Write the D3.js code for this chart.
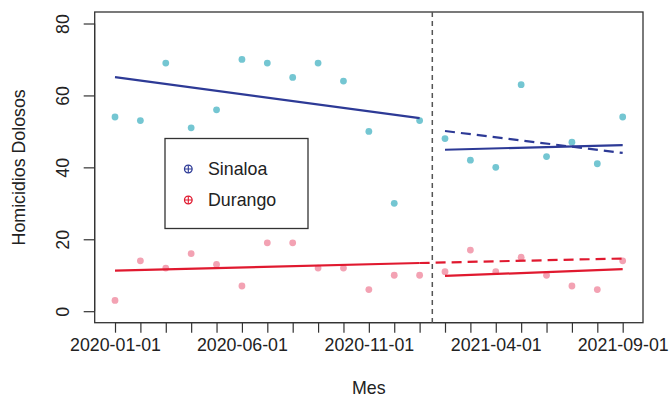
<!DOCTYPE html>
<html>
<head>
<meta charset="utf-8">
<script src="https://cdn.jsdelivr.net/npm/d3@7"></script>
<style>
  body { margin: 0; background: #fff; }
  text { font-family: "Liberation Sans", Arial, sans-serif; fill: #222; }
</style>
</head>
<body>
<div id="plot"></div>
<script>
// months, 1..21
var meses = ["2020-01-01","2020-02-01","2020-03-01","2020-04-01","2020-05-01","2020-06-01",
  "2020-07-01","2020-08-01","2020-09-01","2020-10-01","2020-11-01","2020-12-01",
  "2021-01-01","2021-02-01","2021-03-01","2021-04-01","2021-05-01","2021-06-01",
  "2021-07-01","2021-08-01","2021-09-01"];
var sinaloa = [54,53,69,51,56,70,69,65,69,64,50,30,53,48,42,40,63,43,47,41,54];
var durango = [3,14,12,16,13,7,19,19,12,12,6,10,10,11,17,11,15,10,7,6,14];
// fitted lines: [month index, value]
var sinaloaPre = [[1,65.1],[13,53.7]];
var sinaloaPost = [[14,44.9],[21,46.2]];
var sinaloaCF = [[14,50.1],[21,44.0]];
var durangoPre = [[1,11.3],[13,13.4]];
var durangoPost = [[14,9.8],[21,11.7]];
var durangoCF = [[13,13.4],[21,14.65]];
var corte = 13.5;
var yTicks = [0,20,40,60,80];
var labelEvery = 5;

var width = 670, height = 397;
var mLeft = 94.7, mRight = 643, mTop = 12, mBottom = 322.7;
var fs = "17.8px";

var colAzul = "#2d3a96", colCian = "#74c6d2", colRojo = "#e0192f", colRosa = "#f3a2b3";

var svg = d3.select("#plot").append("svg").attr("width", width).attr("height", height);

var x = d3.scaleLinear().domain([1 - 0.8, 21 + 0.8]).range([mLeft, mRight]);
var y = d3.scaleLinear().domain([-3.2, 83.2]).range([mBottom, mTop]);

// axes
var xAxis = d3.axisBottom(x).tickValues(d3.range(1, 22)).tickSize(10).tickPadding(6)
  .tickFormat(function(d){ return (d - 1) % labelEvery == 0 ? meses[d - 1] : ""; });
var gx = svg.append("g").attr("transform", "translate(0," + mBottom + ")").call(xAxis);
gx.select(".domain").attr("d", "M" + x(1) + ",0H" + x(21)).attr("stroke", "#333");
gx.selectAll(".tick line").attr("stroke", "#333").attr("stroke-width", 1.2);
gx.selectAll("text").style("font-size", fs).attr("fill", "#222");

var yAxis = d3.axisLeft(y).tickValues(yTicks).tickSize(11).tickFormat(d3.format("d"));
var gy = svg.append("g").attr("transform", "translate(" + mLeft + ",0)").call(yAxis);
gy.select(".domain").attr("d", "M0," + y(0) + "V" + y(80)).attr("stroke", "#333");
gy.selectAll(".tick line").attr("stroke", "#333").attr("stroke-width", 1.2);
gy.selectAll(".tick text").attr("x", 0).attr("dy", 0)
  .attr("transform", "translate(-26,0) rotate(-90)")
  .attr("text-anchor", "middle").style("font-size", fs).attr("fill", "#222");

// box
svg.append("rect").attr("x", mLeft).attr("y", mTop).attr("width", mRight - mLeft).attr("height", mBottom - mTop)
  .attr("fill", "none").attr("stroke", "#333").attr("stroke-width", 1.3);

// axis titles
svg.append("text").attr("x", (mLeft + mRight) / 2).attr("y", 394).attr("text-anchor", "middle")
  .style("font-size", fs).text("Mes");
svg.append("text").attr("transform", "translate(25," + (mTop + mBottom) / 2 + ") rotate(-90)")
  .attr("text-anchor", "middle").style("font-size", fs).text("Homicidios Dolosos");

// points
svg.append("g").selectAll("circle").data(sinaloa).enter().append("circle")
  .attr("cx", function(d, i){ return x(i + 1); }).attr("cy", function(d){ return y(d); })
  .attr("r", 3.4).attr("fill", colCian);
svg.append("g").selectAll("circle").data(durango).enter().append("circle")
  .attr("cx", function(d, i){ return x(i + 1); }).attr("cy", function(d){ return y(d); })
  .attr("r", 3.4).attr("fill", colRosa);

// trend lines
var linea = d3.line().x(function(d){ return x(d[0]); }).y(function(d){ return y(d[1]); });
function trazo(datos, color, dash) {
  svg.append("path").datum(datos).attr("d", linea).attr("fill", "none")
    .attr("stroke", color).attr("stroke-width", 2.2)
    .attr("stroke-dasharray", dash ? "10,6" : null);
}
trazo(sinaloaPre, colAzul, false);
trazo(sinaloaPost, colAzul, false);
trazo(sinaloaCF, colAzul, true);
trazo(durangoPre, colRojo, false);
trazo(durangoPost, colRojo, false);
trazo(durangoCF, colRojo, true);

// intervention line
svg.append("line").attr("x1", x(corte)).attr("x2", x(corte)).attr("y1", mTop).attr("y2", mBottom)
  .attr("stroke", "#555").attr("stroke-width", 1.5).attr("stroke-dasharray", "5,4");

// legend
var leg = svg.append("g");
leg.append("rect").attr("x", 165).attr("y", 138.5).attr("width", 143).attr("height", 90)
  .attr("fill", "#fff").attr("stroke", "#333").attr("stroke-width", 1.3);
var items = [["Sinaloa", colAzul], ["Durango", colRojo]];
items.forEach(function(it, i) {
  var cy = 169 + i * 31;
  leg.append("circle").attr("cx", 188.3).attr("cy", cy).attr("r", 3.8)
    .attr("fill", "none").attr("stroke", it[1]).attr("stroke-width", 1.3);
  leg.append("path").attr("d", "M184.5," + cy + "H192.1M188.3," + (cy - 3.8) + "V" + (cy + 3.8))
    .attr("stroke", it[1]).attr("stroke-width", 1.1);
  leg.append("text").attr("x", 208).attr("y", cy).attr("dy", "0.36em")
    .style("font-size", fs).text(it[0]);
});
</script>
</body>
</html>
